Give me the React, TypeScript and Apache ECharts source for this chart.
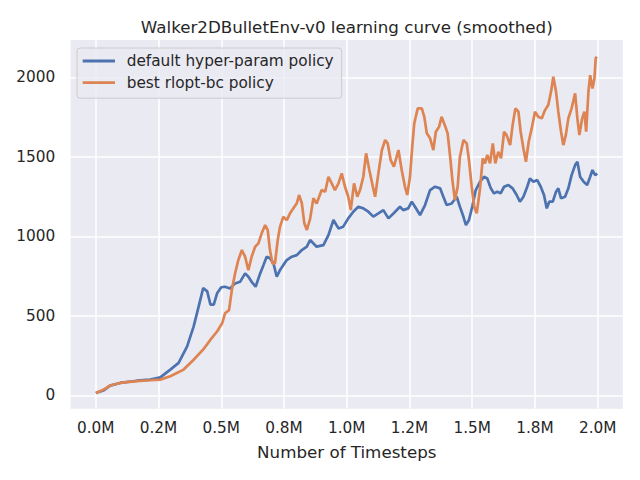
import React, { useEffect, useRef } from "react";
import * as echarts from "echarts";

const chartTitle = "Walker2DBulletEnv-v0 learning curve (smoothed)";
const xAxisName = "Number of Timesteps";
const seriesNames = ["default hyper-param policy", "best rlopt-bc policy"];

const xTickValues = [0, 0.25, 0.5, 0.75, 1.0, 1.25, 1.5, 1.75, 2.0];
const xTickLabels = ["0.0M", "0.2M", "0.5M", "0.8M", "1.0M", "1.2M", "1.5M", "1.8M", "2.0M"];
const yTickValues = [0, 500, 1000, 1500, 2000];

// timesteps in millions
const defaultSteps = [
  0, 0.03, 0.057, 0.097, 0.164, 0.217, 0.257, 0.297, 0.33, 0.364, 0.39, 0.41, 0.428, 0.444, 0.457, 0.47, 0.484, 0.5,
  0.515, 0.535, 0.555, 0.575, 0.595, 0.608, 0.621, 0.637, 0.655, 0.668, 0.681, 0.694, 0.708, 0.721, 0.734, 0.747,
  0.761, 0.781, 0.801, 0.821, 0.841,
  0.854, 0.88, 0.907, 0.927, 0.947, 0.967, 0.986, 1.006, 1.026, 1.046, 1.066, 1.086, 1.106, 1.126, 1.146, 1.166, 1.186,
  1.212, 1.225, 1.245, 1.259, 1.272, 1.292, 1.312, 1.332, 1.352, 1.372, 1.385, 1.398, 1.418, 1.438, 1.451, 1.465,
  1.475, 1.487, 1.5, 1.514,
  1.531, 1.547, 1.56, 1.574, 1.587, 1.6, 1.613, 1.627, 1.644, 1.661, 1.677, 1.69, 1.704, 1.717, 1.73, 1.744, 1.759,
  1.773, 1.786, 1.797, 1.807, 1.821, 1.834, 1.843, 1.854, 1.87, 1.883, 1.896, 1.91, 1.919, 1.93, 1.944, 1.958, 1.97,
  1.979, 1.99, 1.998,
];
const defaultReward = [
  15, 30, 61, 78, 92, 99, 113, 162, 204, 308, 434, 560, 675, 654, 570, 570, 644, 680,
  683, 672, 704, 714, 767, 746, 714, 683, 767, 819, 872, 862, 830, 746, 788, 819,
  851, 872, 882, 914, 935,
  977, 935, 945, 1008, 1103, 1050, 1061, 1113, 1155, 1186, 1176, 1155, 1124, 1144, 1165, 1113, 1144,
  1186, 1165, 1176, 1218, 1186, 1134, 1197, 1291, 1312, 1302, 1249, 1197, 1207, 1249, 1186, 1123,
  1071, 1103, 1186, 1291,
  1343, 1375, 1364, 1302, 1270, 1281, 1270, 1312, 1323, 1302, 1260, 1218, 1249, 1302, 1364, 1343, 1354,
  1312, 1260, 1176, 1218, 1218, 1281, 1302, 1239, 1249, 1302, 1385, 1448, 1469, 1375, 1343, 1323, 1375,
  1417, 1385, 1396,
];

const bestSteps = [
  0, 0.03, 0.057, 0.097, 0.164, 0.217, 0.257, 0.297, 0.35, 0.39, 0.43, 0.457, 0.484, 0.504,
  0.515, 0.531, 0.542, 0.555, 0.568, 0.582, 0.595, 0.608, 0.621, 0.635, 0.648, 0.661, 0.675, 0.685, 0.694,
  0.704, 0.714, 0.725, 0.734, 0.747, 0.761, 0.774, 0.787, 0.801, 0.81, 0.821, 0.831, 0.841,
  0.854, 0.867, 0.88, 0.9, 0.914, 0.927, 0.94, 0.953, 0.967, 0.98, 0.993, 1.006, 1.016, 1.029, 1.042, 1.053,
  1.066, 1.077, 1.09, 1.104, 1.113, 1.126, 1.14, 1.153, 1.163, 1.175, 1.188,
  1.206, 1.219, 1.232, 1.241, 1.252, 1.261, 1.269, 1.283, 1.299, 1.309, 1.319, 1.332, 1.345, 1.355, 1.368,
  1.378, 1.393, 1.402, 1.412, 1.421, 1.431, 1.442, 1.451, 1.465, 1.478, 1.487, 1.498, 1.508, 1.518,
  1.531, 1.542, 1.551, 1.56, 1.571, 1.582, 1.592, 1.604, 1.615, 1.627, 1.637, 1.651, 1.661, 1.672, 1.684,
  1.693, 1.704, 1.714, 1.725, 1.737, 1.75, 1.763, 1.777, 1.79, 1.803, 1.814, 1.823, 1.834, 1.843, 1.854,
  1.863, 1.873, 1.883, 1.896, 1.91, 1.919, 1.927, 1.938, 1.947, 1.954, 1.963, 1.97, 1.979, 1.987, 1.992, 1.996,
];
const bestReward = [
  15, 35, 62, 78, 90, 95, 99, 120, 162, 224, 292, 350, 403, 455,
  516, 536, 662, 767, 851, 914, 872, 788, 872, 935, 956, 1019, 1071, 1040, 914,
  830, 830, 977, 1060, 1123, 1102, 1145, 1176, 1208, 1260, 1208, 1082, 1040,
  1110, 1240, 1207, 1291, 1281, 1375, 1333, 1291, 1333, 1396, 1312, 1249, 1165, 1333, 1249, 1291,
  1375, 1522, 1417, 1312, 1249, 1396, 1543, 1606, 1585, 1480, 1438,
  1543, 1417, 1312, 1260, 1375, 1564, 1711, 1805, 1805, 1752, 1648, 1617, 1543, 1658, 1690,
  1752, 1690, 1648, 1501, 1354, 1228, 1312, 1501, 1606, 1585, 1480, 1312, 1186, 1145,
  1300, 1491, 1459, 1512, 1459, 1585, 1459, 1532, 1491, 1658, 1637, 1574, 1700, 1805, 1784,
  1658, 1553, 1469, 1595, 1679, 1784, 1752, 1742, 1794, 1826, 1909, 2004, 1909, 1784, 1658,
  1574, 1637, 1742, 1805, 1899, 1742, 1637, 1742, 1784, 1658, 1909, 2014, 1930, 1993, 2119, 2130,
];

const FONT = "DejaVu Sans";
const TEXT = "#262626";

export default function App() {
  const ref = useRef<HTMLDivElement>(null);

  useEffect(() => {
    if (!ref.current) return;
    const chart = echarts.init(ref.current, undefined, { renderer: "svg" });
    const gridLeft = 70.7;
    const gridRight = 17.2;
    const gridTop = 40;
    const gridBottom = 71.3;
    const centerX = gridLeft + (640 - gridLeft - gridRight) / 2;

    chart.setOption({
      animation: false,
      backgroundColor: "#ffffff",
      textStyle: { fontFamily: FONT },
      graphic: [
        {
          type: "text",
          x: centerX,
          y: 26.5,
          style: {
            text: chartTitle,
            fontFamily: FONT,
            fontSize: 16.7,
            fill: TEXT,
            align: "center",
            verticalAlign: "middle",
          },
        },
      ],
      grid: {
        left: gridLeft,
        right: gridRight,
        top: gridTop,
        bottom: gridBottom,
        show: true,
        backgroundColor: "#EAEAF2",
        borderWidth: 0,
        containLabel: false,
      },
      legend: {
        orient: "vertical",
        left: 77,
        top: 48,
        padding: [4.5, 8, 7, 5.7],
        icon: "rect",
        itemWidth: 32.3,
        itemHeight: 2.8,
        itemGap: 4.7,
        backgroundColor: "rgba(234,234,242,0.8)",
        borderColor: "#CCCCCC",
        borderWidth: 1,
        borderRadius: 3,
        textStyle: {
          fontFamily: FONT,
          fontSize: 15.3,
          color: TEXT,
          lineHeight: 17,
          padding: [0, 0, 0, 6.7],
        },
        data: seriesNames,
      },
      xAxis: {
        type: "value",
        min: -0.1,
        max: 2.1,
        name: xAxisName,
        nameLocation: "middle",
        nameGap: 35,
        nameTextStyle: { fontFamily: FONT, fontSize: 16.7, color: TEXT },
        axisLine: { show: false },
        axisTick: { show: false, customValues: xTickValues },
        axisLabel: {
          customValues: xTickValues,
          margin: 12,
          fontFamily: FONT,
          fontSize: 15.3,
          color: TEXT,
          formatter: (v: number) => {
            const i = xTickValues.findIndex((t) => Math.abs(t - v) < 1e-6);
            return i >= 0 ? xTickLabels[i] : "";
          },
        },
        splitLine: { show: true, lineStyle: { color: "#ffffff", width: 1.5 } },
      },
      yAxis: {
        type: "value",
        min: -84,
        max: 2235,
        axisLine: { show: false },
        axisTick: { show: false, customValues: yTickValues },
        axisLabel: {
          customValues: yTickValues,
          margin: 15.4,
          fontFamily: FONT,
          fontSize: 15.3,
          color: TEXT,
          formatter: (v: number) => String(v),
        },
        splitLine: { show: true, lineStyle: { color: "#ffffff", width: 1.5 } },
      },
      series: [
        {
          name: seriesNames[0],
          type: "line",
          symbol: "none",
          showSymbol: false,
          lineStyle: { color: "#4C72B0", width: 2.7 },
          itemStyle: { color: "#4C72B0" },
          data: defaultSteps.map((t, i) => [t, defaultReward[i]]),
        },
        {
          name: seriesNames[1],
          type: "line",
          symbol: "none",
          showSymbol: false,
          lineStyle: { color: "#DD8452", width: 2.7 },
          itemStyle: { color: "#DD8452" },
          data: bestSteps.map((t, i) => [t, bestReward[i]]),
        },
      ],
    });

    return () => chart.dispose();
  }, []);

  return (
    <div
      ref={ref}
      style={{ position: "absolute", left: 0, top: 0, width: 640, height: 480 }}
    />
  );
}
